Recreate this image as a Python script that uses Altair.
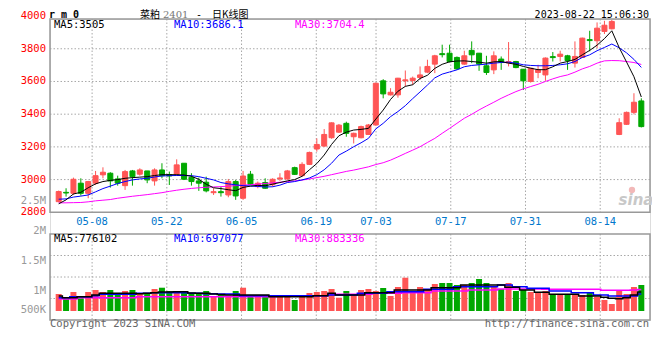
import altair as alt
import pandas as pd

dates = ["04-26","04-27","04-28","05-04","05-05","05-08","05-09","05-10","05-11","05-12",
         "05-15","05-16","05-17","05-18","05-19","05-22","05-23","05-24","05-25","05-26",
         "05-29","05-30","05-31","06-01","06-02","06-05","06-06","06-07","06-08","06-09",
         "06-12","06-13","06-14","06-15","06-16","06-19","06-20","06-21","06-26","06-27",
         "06-28","06-29","06-30","07-03","07-04","07-05","07-06","07-07","07-10","07-11",
         "07-12","07-13","07-14","07-17","07-18","07-19","07-20","07-21","07-24","07-25",
         "07-26","07-27","07-28","07-31","08-01","08-02","08-03","08-04","08-07","08-08",
         "08-09","08-10","08-11","08-14","08-15","08-16","08-17","08-18","08-21","08-22"]

open_ = [2865,2922,2916,2978,2916,2978,3029,3039,3004,2963,
         3053,3033,3053,2992,3059,3030,3033,3100,3014,2992,
         2984,2920,2926,2906,2988,2886,3033,2957,2982,2968,
         3004,3004,3073,3024,3093,3187,3205,3256,3290,3344,
         3262,3256,3276,3334,3604,3518,3518,3604,3606,3624,
         3657,3706,3770,3773,3747,3706,3790,3773,3696,3671,
         3737,3714,3722,3675,3600,3655,3640,3752,3753,3757,
         3712,3747,3856,3849,3906,3922,3276,3338,3411,3481]
high = [2933,2947,3012,3008,2992,3053,3075,3045,3024,3059,
        3059,3069,3053,3069,3100,3049,3124,3100,3039,3012,
        3018,2947,2957,3004,2998,3053,3053,2988,3008,3008,
        3039,3059,3079,3106,3171,3252,3309,3350,3340,3354,
        3287,3330,3340,3592,3614,3559,3622,3667,3630,3692,
        3733,3763,3825,3825,3753,3788,3845,3773,3757,3784,
        3753,3841,3726,3675,3681,3702,3747,3780,3788,3763,
        3845,3868,3910,3961,3971,3976,3375,3416,3528,3497]
low = [2861,2896,2906,2902,2886,2967,3008,2951,2963,2937,
       2963,3024,2978,2963,3008,2967,3024,2998,2963,2931,
       2922,2906,2896,2892,2876,2876,2967,2947,2943,2957,
       2992,2998,3028,3018,3089,3171,3201,3250,3285,3262,
       3221,3252,3276,3330,3497,3514,3501,3569,3579,3610,
       3651,3651,3747,3716,3671,3702,3712,3665,3640,3645,
       3671,3692,3681,3548,3593,3620,3604,3722,3722,3671,
       3685,3744,3784,3804,3890,3918,3272,3334,3399,3319]
close = [2927,2918,3002,2916,2988,3024,3045,2992,2978,3049,
         3018,3059,2998,3059,3024,3022,3090,3002,2988,2978,
         2931,2926,2920,2988,2900,3022,2971,2978,2947,3002,
         3010,3053,3032,3093,3166,3215,3276,3347,3333,3283,
         3283,3324,3334,3589,3524,3534,3620,3610,3620,3640,
         3692,3757,3764,3722,3677,3757,3763,3706,3655,3757,
         3718,3722,3685,3604,3681,3671,3743,3746,3767,3728,
         3753,3865,3850,3926,3944,3967,3348,3411,3473,3324]
volume_k = [697,492,779,521,779,861,779,861,697,820,
            861,697,697,902,955,820,820,779,697,697,
            820,574,697,627,820,955,656,574,656,574,
            656,574,451,615,738,779,820,902,545,820,
            697,861,902,820,943,615,984,1365,820,984,
            861,1107,1148,1148,1066,1066,1148,1312,1148,984,
            902,1148,820,861,779,738,820,656,697,697,
            697,656,738,574,451,287,861,697,984,1066]
ma5 = [2852,2876,2912,2922,2950,2974,2988,2995,3000,3008,
       3012,3015,3018,3025,3030,3030,3030,3028,3020,3002,
       2972,2950,2945,2938,2932,2952,2960,2965,2962,2972,
       2982,2992,3000,3020,3060,3098,3150,3215,3268,3290,
       3303,3307,3313,3370,3425,3490,3540,3570,3580,3618,
       3638,3680,3705,3720,3725,3726,3722,3718,3712,3720,
       3722,3712,3705,3692,3681,3672,3672,3690,3712,3722,
       3735,3763,3790,3822,3862,3910,3807,3719,3629,3505]
ma10 = [2880,2882,2893,2899,2906,2925,2945,2960,2976,2988,
        2998,3004,3008,3016,3022,3024,3025,3025,3024,3018,
        3008,2998,2982,2974,2968,2963,2961,2958,2955,2956,
        2966,2982,2988,2998,3010,3030,3060,3100,3150,3174,
        3201,3225,3252,3310,3344,3385,3416,3452,3495,3536,
        3578,3622,3645,3658,3671,3690,3698,3702,3706,3712,
        3716,3718,3712,3702,3698,3696,3696,3698,3702,3708,
        3722,3747,3763,3788,3808,3829,3806,3775,3735,3686]
ma30 = [2858,2858,2859,2860,2864,2870,2874,2878,2886,2892,
        2898,2903,2908,2914,2920,2928,2935,2941,2946,2950,
        2953,2955,2957,2960,2963,2966,2969,2972,2976,2980,
        2984,2988,2992,2997,3004,3012,3020,3030,3040,3050,
        3058,3068,3078,3092,3103,3119,3139,3160,3180,3201,
        3227,3252,3283,3313,3344,3375,3399,3426,3450,3473,
        3497,3518,3538,3555,3569,3583,3600,3616,3630,3640,
        3657,3677,3692,3712,3726,3728,3727,3722,3716,3704]
vma5_k = [615,547,547,588,588,656,724,724,724,724,
          724,710,724,752,780,780,793,793,740,724,
          724,700,680,656,656,656,656,656,656,588,
          588,588,588,588,588,629,629,724,656,656,
          656,656,752,752,752,752,861,861,861,861,
          861,957,957,957,957,1066,1066,1066,1066,1066,
          1066,971,971,861,861,765,765,683,683,683,
          683,615,615,615,560,520,500,547,660,776]
vma10_k = [547,547,588,588,588,629,683,683,683,683,
           683,724,724,752,752,752,752,752,724,724,
           710,710,697,697,697,629,629,629,629,629,
           629,629,629,629,629,629,629,656,656,656,
           656,724,724,724,724,793,793,793,793,793,
           888,888,888,888,998,998,998,998,998,998,
           1066,1066,998,998,929,929,929,820,820,820,
           752,752,752,656,656,615,615,615,615,697]
vma30_k = [492,492,492,547,547,547,547,547,547,547,
           547,588,588,588,588,588,588,588,588,588,
           588,588,588,588,588,588,588,588,588,588,
           629,629,629,629,629,629,629,683,683,683,
           683,683,683,724,724,724,724,752,752,752,
           752,820,820,820,820,820,861,861,861,861,
           902,902,902,902,902,902,888,888,888,888,
           888,888,888,888,847,847,847,847,860,883]

tick_dates = ["05-08", "05-22", "06-05", "06-19", "07-03", "07-17", "07-31", "08-14"]
price_ticks = [4000, 3800, 3600, 3400, 3200, 3000, 2800]
price_grid = [3800, 3600, 3400, 3200, 3000]

# ---------------- styling / layout ----------------
RED, GREEN = "#ff5555", "#00a800"
MONO = "DejaVu Sans Mono"
CJK = "Noto Sans CJK SC"
GRID = "#a8a8a8"
FRAME = "#999999"
W, H = 600, 301
P_TOP, P_BOT = 0, 193.3
V_TOP, V_BOT = 215, 301
TOP_Y = -4.5
n = len(dates)

df = pd.DataFrame({
    "i": list(range(n)), "date": dates, "open": open_, "high": high, "low": low,
    "close": close, "vol": [v * 1000 for v in volume_k],
    "ma5": ma5, "ma10": ma10, "ma30": ma30,
    "vma5": [v * 1000 for v in vma5_k], "vma10": [v * 1000 for v in vma10_k],
    "vma30": [v * 1000 for v in vma30_k],
})

tick_idx = [dates.index(d) for d in tick_dates]
ticks = pd.DataFrame({"pos": [k - 0.47 + (k - 5) * 0.0132 for k in tick_idx], "label": tick_dates})

xs = alt.Scale(domain=[-0.5, n - 0.5], nice=False, zero=False)
ps = alt.Scale(domain=[2800, 3982], range=[P_BOT, P_TOP], nice=False, zero=False)
vol_lo, vol_hi = -9 * 41000, 77 * 41000
vs = alt.Scale(domain=[vol_lo, vol_hi], range=[V_BOT, V_TOP], nice=False, zero=False)

X = alt.X("i:Q", scale=xs, axis=None)
updown = alt.condition("datum.close >= datum.open", alt.value(RED), alt.value(GREEN))
one = pd.DataFrame({"a": [0]})

layers = []

# gridlines
layers.append(alt.Chart(pd.DataFrame({"p": price_grid})).mark_rule(
    color=GRID, strokeDash=[1.5, 2], strokeWidth=1).encode(
    y=alt.Y("p:Q", scale=ps, axis=None), x=alt.value(0), x2=alt.value(W)))
vstep = (vol_hi - vol_lo) / 4
layers.append(alt.Chart(pd.DataFrame({"v": [vol_lo + vstep * k for k in (1, 2, 3)]})).mark_rule(
    color=GRID, strokeDash=[1.5, 2], strokeWidth=1).encode(
    y=alt.Y("v:Q", scale=vs, axis=None), x=alt.value(0), x2=alt.value(W)))
for (a, b) in ((P_TOP, P_BOT), (V_TOP, V_BOT)):
    layers.append(alt.Chart(ticks).mark_rule(
        color=GRID, strokeDash=[1.5, 2], strokeWidth=1).encode(
        x=alt.X("pos:Q", scale=xs, axis=None), y=alt.value(a), y2=alt.value(b)))

# frames
for (a, b) in ((P_TOP, P_BOT), (V_TOP, V_BOT)):
    layers.append(alt.Chart(one).mark_rect(filled=False, stroke=FRAME, strokeWidth=1.5).encode(
        x=alt.value(0), x2=alt.value(W), y=alt.value(a), y2=alt.value(b)))

# volume bars + MAs
layers.append(alt.Chart(df).mark_bar(size=6).encode(
    x=X, y=alt.Y("vol:Q", scale=vs, axis=None, stack=None), y2=alt.Y2(datum=0), color=updown))
for col, c in (("vma30", "#ff00ff"), ("vma10", "#0000ff"), ("vma5", "#000000")):
    layers.append(alt.Chart(df).mark_line(color=c, strokeWidth=1.5, interpolate="step").encode(
        x=X, y=alt.Y(f"{col}:Q", scale=vs, axis=None)))

# candles
layers.append(alt.Chart(df).mark_rule(strokeWidth=1).encode(
    x=X, y=alt.Y("low:Q", scale=ps, axis=None), y2="high:Q", color=updown))
layers.append(alt.Chart(df).mark_bar(size=5, strokeWidth=1).encode(
    x=X, y=alt.Y("open:Q", scale=ps, axis=None), y2="close:Q", color=updown, stroke=updown))

# price MAs
for col, c in (("ma30", "#ff00ff"), ("ma10", "#0000ff"), ("ma5", "#000000")):
    layers.append(alt.Chart(df).mark_line(color=c, strokeWidth=1, clip=True).encode(
        x=X, y=alt.Y(f"{col}:Q", scale=ps, axis=None)))

# axis labels
layers.append(alt.Chart(pd.DataFrame({"p": price_ticks, "t": [str(v) for v in price_ticks]})).mark_text(
    align="right", baseline="middle", color="#ff0000", font=MONO, fontSize=10.5).encode(
    x=alt.value(-4), y=alt.Y("p:Q", scale=ps, axis=None), text="t:N"))
layers.append(alt.Chart(ticks).mark_text(
    align="center", baseline="middle", color="#0077cc", font=MONO, fontSize=10.5).encode(
    x=alt.X("pos:Q", scale=xs, axis=None), y=alt.value(P_BOT + 9.7), text="label:N"))


def txt(s, x, y, color="#000000", size=10.5, font=MONO, align="left", weight="normal", style="normal"):
    return alt.Chart(one).mark_text(text=s, color=color, fontSize=size, font=font, align=align,
                                    baseline="middle", fontWeight=weight, fontStyle=style).encode(
        x=alt.value(x), y=alt.value(y))


for s, yy in (("2.5M", 182), ("2M", 211.7), ("1.5M", 241.7), ("1M", 271.7), ("500K", 290.5)):
    layers.append(txt(s, -4, yy, color="#999999", align="right"))

layers += [
    txt("r m 0", -1, TOP_Y, weight="bold", size=10),
    txt("菜粕", 90, TOP_Y, font=CJK, size=10),
    txt("2401", 113, TOP_Y, color="#777777", font="DejaVu Serif", size=10),
    txt("-", 146, TOP_Y, font=MONO, size=10),
    txt("日K线图", 162, TOP_Y, font=CJK, size=10),
    txt("2023-08-22 15:06:30", 599, TOP_Y, align="right", size=10),
    txt("MA5:3505", 4, 6),
    txt("MA10:3686.1", 124, 6, color="#0000ff"),
    txt("MA30:3704.4", 245, 6, color="#ff00ff"),
    txt("MA5:776102", 4, 220),
    txt("MA10:697077", 124, 220, color="#0000ff"),
    txt("MA30:883336", 245, 220, color="#ff00ff"),
    txt("Copyright 2023 SINA.COM", 0, 305, color="#666666"),
    txt("http://finance.sina.com.cn", 599, 305, color="#666666", align="right"),
    txt("sina", 586, 181, color="#c8c8c8", font="DejaVu Sans", size=15, weight="bold",
        style="italic", align="center"),
]
layers.append(alt.Chart(one).mark_point(filled=True, color="#f2b8b8", size=40, opacity=1).encode(
    x=alt.value(582), y=alt.value(171)))

chart = alt.layer(*layers).properties(
    width=W, height=H,
    autosize=alt.AutoSizeParams(type="none"),
    padding={"left": 42, "top": 11, "right": 2, "bottom": 32},
).resolve_scale(y="independent").configure_view(stroke=None).configure(background="#ffffff")

chart.save("out.html", embed_options={"renderer": "svg", "actions": False})
